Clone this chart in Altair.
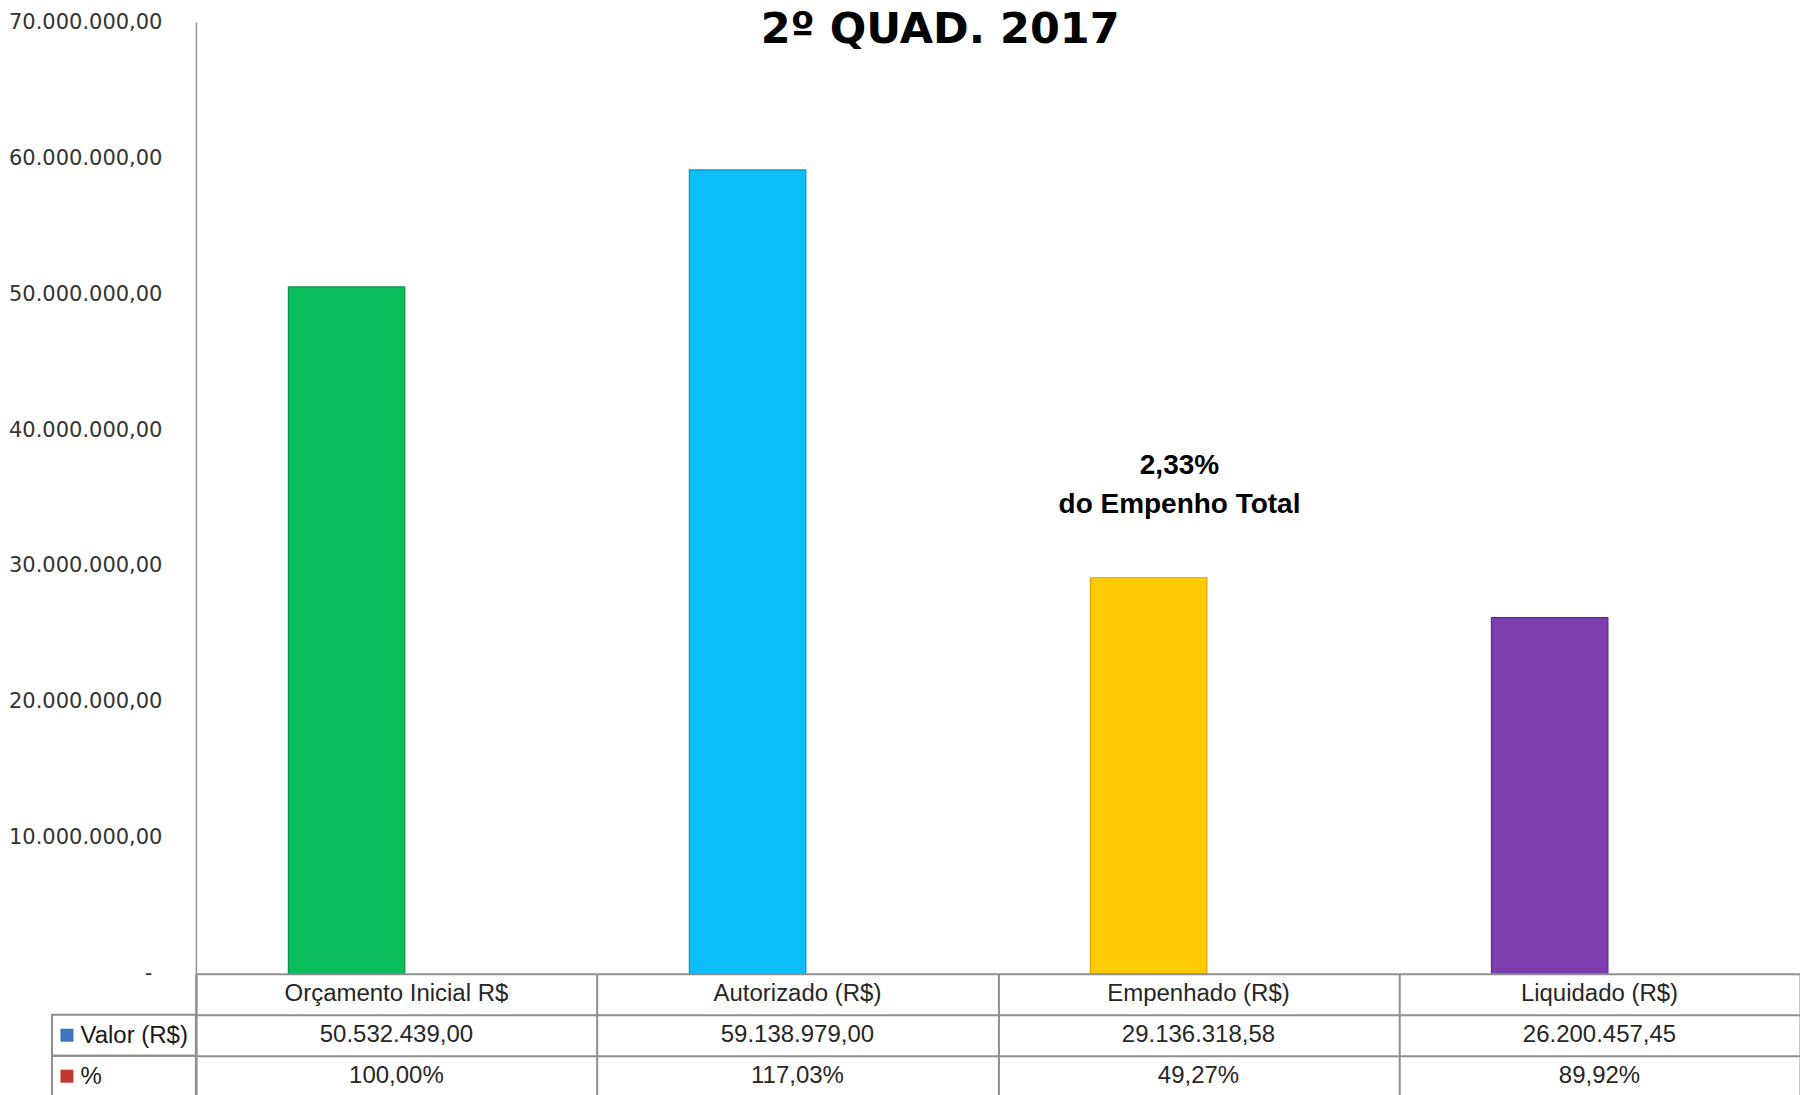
import altair as alt
import pandas as pd

# ---------------- data ----------------
categories = ["Orçamento Inicial R$", "Autorizado (R$)", "Empenhado (R$)", "Liquidado (R$)"]
valor = [50532439.00, 59138979.00, 29136318.58, 26200457.45]
percent = [1.0000, 1.1703, 0.4927, 0.8992]
series = ["Valor (R$)", "%"]
y_ticks = [0, 10000000, 20000000, 30000000, 40000000, 50000000, 60000000, 70000000]
title_text = "2º QUAD. 2017"
note_text = "2,33%\ndo Empenho Total"
note_category = "Empenhado (R$)"
note_value = 36800000
header_key = "cab"

# ---------------- styles ----------------
bar_colors = ["#0ABF5B", "#0CBFF8", "#FFCB05", "#7E3DAE"]
bar_edges = ["#08934A", "#0A95C2", "#D2A500", "#5C2A83"]
series_colors = ["#3C74C0", "#C0392F"]
LINE = "#8f8f8f"
TXT = "Liberation Sans, Arial, sans-serif"
W = 1605
H = 952
ROW = 41
LEFT_COL = 144
rows = [header_key] + series

# ---------------- tables ----------------
bars_df = pd.DataFrame(
    [{"category": c, "series": series[0], "value": v} for c, v in zip(categories, valor)]
    + [{"category": c, "series": series[1], "value": p} for c, p in zip(categories, percent)]
)
note_df = pd.DataFrame([{"category": note_category, "value": note_value, "label": note_text}])
header_df = pd.DataFrame([{"category": c, "row": header_key} for c in categories])
valor_df = pd.DataFrame([{"category": c, "row": series[0], "value": v} for c, v in zip(categories, valor)])
pct_df = pd.DataFrame([{"category": c, "row": series[1], "value": p} for c, p in zip(categories, percent)])
keys_df = pd.DataFrame([{"row": s} for s in series])

x_scale = alt.Scale(domain=categories, paddingInner=0, paddingOuter=0)
row_scale = alt.Scale(domain=rows, paddingInner=0, paddingOuter=0)

# ---------------- top chart ----------------
bars = alt.Chart(bars_df).mark_bar(strokeWidth=1.2).encode(
    x=alt.X("category:N", sort=categories, scale=x_scale, axis=None),
    xOffset=alt.XOffset("series:N", sort=series,
                        scale=alt.Scale(domain=series, paddingInner=0, paddingOuter=0.722, align=0.55)),
    y=alt.Y("value:Q",
            scale=alt.Scale(domain=[0, 70000000], nice=False, zero=True),
            axis=alt.Axis(values=y_ticks, format=",.2f",
                          labelExpr="datum.value == 0 ? '-' : datum.label",
                          labelPadding={"condition": {"test": "datum.value == 0", "value": 44}, "value": 34},
                          title=None, grid=False, ticks=False,
                          domainColor=LINE, domainWidth=1.5,
                          labelFont="DejaVu Sans", labelFontSize=21,
                          labelColor="#333333")),
    color=alt.Color("category:N", scale=alt.Scale(domain=categories, range=bar_colors), legend=None),
    stroke=alt.Stroke("category:N", scale=alt.Scale(domain=categories, range=bar_edges), legend=None),
    opacity=alt.condition(alt.datum.series == series[1], alt.value(0), alt.value(1)),
)

note = alt.Chart(note_df).mark_text(
    font=TXT, fontSize=28, fontWeight="bold", lineHeight=39,
    align="center", baseline="alphabetic", dx=-19, color="#000000", lineBreak="\n"
).encode(
    x=alt.X("category:N", sort=categories, scale=x_scale, axis=None),
    y=alt.Y("value:Q"),
    text="label:N",
)

top = alt.layer(bars, note).properties(width=W, height=H)

# ---------------- data table ----------------
header = alt.Chart(header_df).mark_text(font=TXT, fontSize=24, color="#262626").encode(
    x=alt.X("category:N", sort=categories, scale=x_scale,
            axis=alt.Axis(orient="top", grid=True, tickBand="extent", labels=False,
                          ticks=False, domain=False, title=None,
                          gridColor=LINE, gridWidth=2, gridOpacity=1)),
    y=alt.Y("row:N", sort=rows, scale=row_scale,
            axis=alt.Axis(grid=True, tickBand="extent", gridColor=LINE, gridWidth=2, gridOpacity=1,
                          domain=True, domainColor=LINE, domainWidth=2, ticks=False,
                          labelExpr="datum.value == 'cab' ? '' : datum.label",
                          labelAlign="left", labelPadding=116,
                          labelFont=TXT, labelFontSize=24, labelColor="#1a1a1a",
                          title=None)),
    text="category:N",
)

valor_text = alt.Chart(valor_df).mark_text(font=TXT, fontSize=24, color="#262626").encode(
    x=alt.X("category:N", sort=categories, scale=x_scale),
    y=alt.Y("row:N", sort=rows, scale=row_scale),
    text=alt.Text("value:Q", format=",.2f"),
)

pct_text = alt.Chart(pct_df).mark_text(font=TXT, fontSize=24, color="#262626").encode(
    x=alt.X("category:N", sort=categories, scale=x_scale),
    y=alt.Y("row:N", sort=rows, scale=row_scale),
    text=alt.Text("value:Q", format=".2%"),
)

# label-column cells (left of the plot area) drawn on the row band scale
label_cells = alt.Chart(keys_df).mark_rect(fill="#ffffff", fillOpacity=0, stroke=LINE, strokeWidth=2).encode(
    x=alt.value(-LEFT_COL),
    x2=alt.value(0),
    y=alt.Y("row:N", sort=rows, scale=row_scale),
)

keys = alt.Chart(keys_df).mark_square(size=169, opacity=1).encode(
    x=alt.value(-129),
    y=alt.Y("row:N", sort=rows, scale=row_scale),
    color=alt.Color("row:N", scale=alt.Scale(domain=series, range=series_colors), legend=None),
)

table = alt.layer(label_cells, header, valor_text, pct_text, keys).properties(width=W, height=ROW * 3)

chart = alt.vconcat(
    top, table, spacing=0, bounds="flush",
    title=alt.Title(title_text, font="DejaVu Sans", fontSize=43, fontWeight="bold",
                    color="#000000", anchor="middle", dx=36, offset=-40.5),
).resolve_scale(color="independent", stroke="independent").properties(
    padding={"left": 0, "top": 0, "right": 0, "bottom": 0}
).configure(
    locale={"number": {"decimal": ",", "thousands": ".", "grouping": [3], "currency": ["R$", ""]}}
).configure_view(stroke=None)

chart.save("out.html", embed_options={"renderer": "svg", "actions": False})
